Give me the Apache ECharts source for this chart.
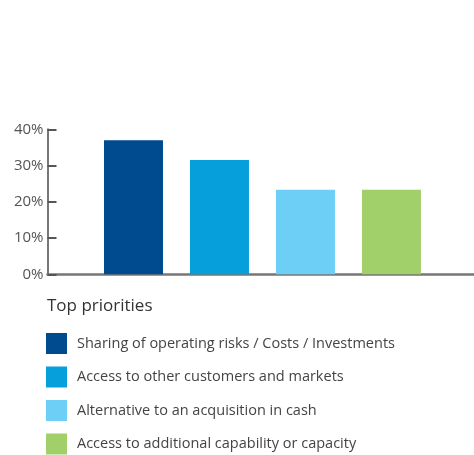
<!DOCTYPE html>
<html>
<head>
<meta charset="utf-8">
<script src="https://cdn.jsdelivr.net/npm/echarts@6/dist/echarts.min.js"></script>
<style>
  html, body { margin: 0; padding: 0; background: #fff; }
  #chart { width: 474px; height: 455px; }
</style>
</head>
<body>
<div id="chart"></div>
<script>
const priorities = [
  "Sharing of operating risks / Costs / Investments",
  "Access to other customers and markets",
  "Alternative to an acquisition in cash",
  "Access to additional capability or capacity",
];
const shares = [37, 31.5, 23.3, 23.3];
const barColors = ["#004a8f", "#069edb", "#6dcff5", "#a1cf69"];
const yTicks = [0, 10, 20, 30, 40];

const chart = echarts.init(document.getElementById("chart"));

// bars stand at x = 1..4 on a plain numeric axis that runs off the right edge
const series = priorities.map((name, i) => ({
  name,
  type: "bar",
  stack: "all",
  barWidth: 59,
  itemStyle: { color: barColors[i] },
  data: [[i + 1, shares[i]]],
}));

chart.setOption({
  animation: false,
  textStyle: { fontFamily: "Open Sans" },
  title: {
    text: "Top priorities",
    left: 47,
    top: 298,
    padding: 0,
    textStyle: { fontSize: 17, fontWeight: "normal", color: "#333", fontFamily: "Open Sans" },
  },
  legend: {
    orient: "vertical",
    left: 46,
    top: 333,
    width: 428,
    height: 122,
    padding: 0,
    icon: "rect",
    itemWidth: 21,
    itemHeight: 21,
    itemGap: 12.5,
    textStyle: { fontSize: 14.5, color: "#444", padding: [0, 0, 0, 5] },
    data: priorities,
  },
  grid: { left: 47.5, top: 129.3, bottom: 180.7, right: 0 },
  xAxis: {
    type: "value",
    min: 0,
    max: 4.96,
    axisLine: { show: true, onZero: false, lineStyle: { color: "#777", width: 2.5 } },
    axisTick: { show: false },
    axisLabel: { show: false },
    splitLine: { show: false },
  },
  yAxis: {
    type: "value",
    min: yTicks[0],
    max: yTicks[yTicks.length - 1],
    interval: 10,
    axisLine: { show: true, lineStyle: { color: "#777", width: 2 } },
    axisTick: { show: true, inside: true, length: 9, lineStyle: { color: "#555", width: 2 } },
    axisLabel: { formatter: "{value}%", fontSize: 15, color: "#555", margin: 4 },
    splitLine: { show: false },
  },
  series,
});
</script>
</body>
</html>
